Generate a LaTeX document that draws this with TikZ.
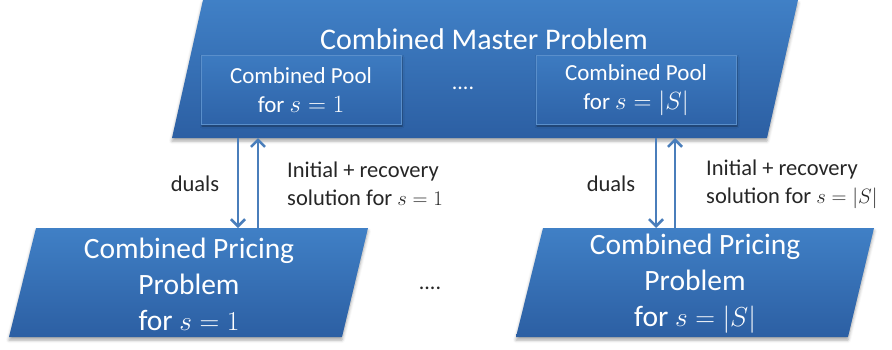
\documentclass[tikz,border=0pt]{standalone}
\usepackage{fontspec}
\setmainfont{Carlito}
\usetikzlibrary{arrows.meta,shadows.blur}

\definecolor{blueTop}{HTML}{4080C6}
\definecolor{blueBot}{HTML}{2C5FA3}
\definecolor{poolTop}{HTML}{3D7BC1}
\definecolor{poolBot}{HTML}{2E63A8}
\definecolor{poolEdge}{HTML}{5A8FCB}
\definecolor{linkBlue}{HTML}{4A7EBB}
\definecolor{labelGray}{HTML}{262626}

% math set a little larger so it sits well next to the sans text
\newcommand{\mv}[1]{\scalebox{1.1}{$#1$}}

\tikzset{
  problem/.style={top color=blueTop, bottom color=blueBot,
    blur shadow={shadow xshift=0pt, shadow yshift=-3pt,
                 shadow blur radius=3pt, shadow opacity=35}},
  pool/.style={top color=poolTop, bottom color=poolBot, draw=poolEdge, line width=0.8pt,
    blur shadow={shadow xshift=1pt, shadow yshift=-2pt,
                 shadow blur radius=2pt, shadow opacity=45}},
  wtext/.style={text=white, align=center, inner sep=0pt},
  link/.style={draw=linkBlue, line width=2.6pt,
    -{Straight Barb[length=7pt, width=14pt, line width=2.6pt]}},
  lbl/.style={text=labelGray, font=\fontsize{22.5}{28}\selectfont, inner sep=0pt},
  dots/.style={text=white, font=\fontsize{22}{26}\selectfont, inner sep=0pt},
}

\begin{document}
\begin{tikzpicture}[x=1pt, y=-1pt]
  \useasboundingbox (0,0) rectangle (892,349);

  % master problem parallelogram
  \path[problem] (203,0) -- (798,0) -- (767,138) -- (172,138) -- cycle;
  \node[wtext, font=\fontsize{30}{34}\selectfont] (master) at (484,39) {Combined Master Problem};

  % column pools inside the master problem
  \path[pool] (201,55) rectangle (401,124);
  \node[wtext, font=\fontsize{23}{29}\selectfont] (pool1) at (301,90) {Combined Pool\\for $s=1$};
  \node[dots] (mdots) at (463,88) {....};
  \path[pool] (536,55) rectangle (736,124);
  \node[wtext, font=\fontsize{23}{29}\selectfont] (poolS) at (636,90) {Combined Pool\\for $s=|S|$};

  % pricing problem parallelograms
  \path[problem] (36,228) -- (368,228) -- (342,337) -- (9,337) -- cycle;
  \node[wtext, font=\fontsize{29.5}{36}\selectfont] (price1) at (189,284) {Combined Pricing\\Problem\\for \mv{s=1}};
  \node[text=labelGray, font=\fontsize{22}{26}\selectfont, inner sep=0pt] (bdots) at (430,288) {....};
  \path[problem] (543,228) -- (874,228) -- (848,337) -- (516,337) -- cycle;
  \node[wtext, font=\fontsize{29.5}{36}\selectfont] (priceS) at (695,284) {Combined Pricing\\Problem\\for \mv{s=|S|}};

  % attachment points on the shape edges
  \coordinate (m1d) at (238,138);
  \coordinate (m1u) at (258,138);
  \coordinate (p1d) at (238,228);
  \coordinate (p1u) at (258,228);
  \coordinate (mSd) at (656,138);
  \coordinate (mSu) at (675,138);
  \coordinate (pSd) at (656,228);
  \coordinate (pSu) at (675,228);

  % duals go down, columns go up
  \draw[link] (m1d) -- (p1d);
  \draw[link] (p1u) -- (m1u);
  \draw[link] (mSd) -- (pSd);
  \draw[link] (pSu) -- (mSu);

  \node[lbl] (duals1) at (195,184) {duals};
  \node[lbl, align=left, anchor=west] (sol1) at (287,184) {Initial + recovery\\solution for $s=1$};
  \node[lbl] (dualsS) at (611,184) {duals};
  \node[lbl, align=left, anchor=west] (solS) at (706,184) {Initial + recovery\\solution for $s=|S|$};
\end{tikzpicture}
\end{document}
